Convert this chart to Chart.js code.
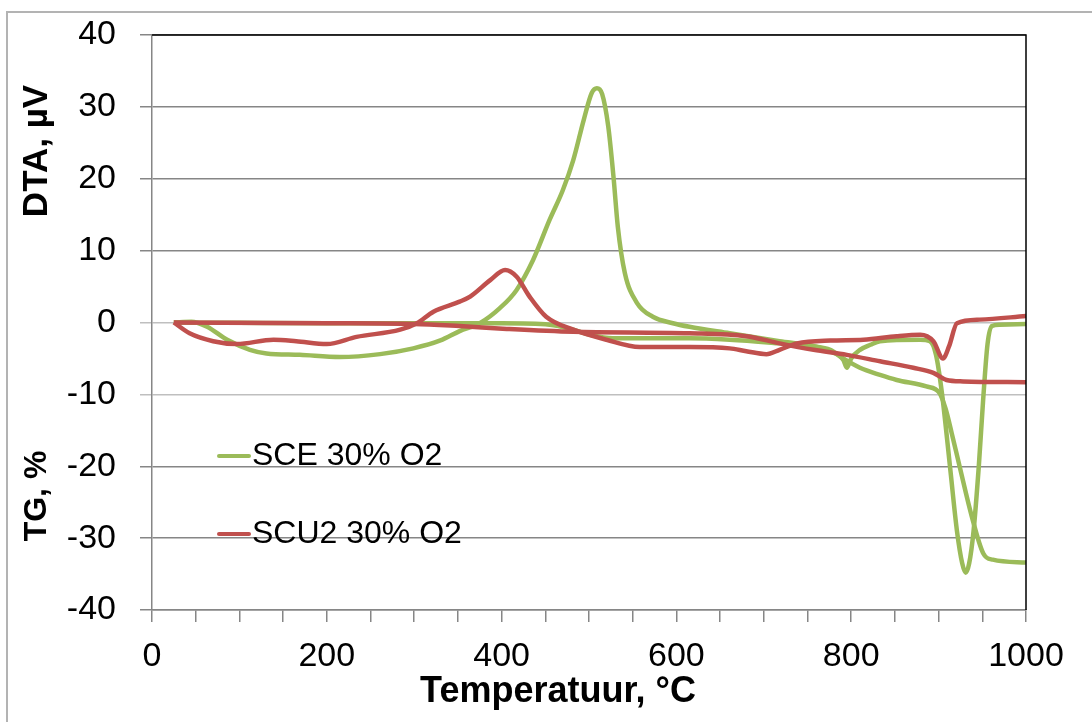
<!DOCTYPE html>
<html>
<head>
<meta charset="utf-8">
<script src="https://cdn.jsdelivr.net/npm/chart.js@4"></script>
<style>
  html, body { margin: 0; padding: 0; background: #fff; }
  #wrap { width: 1092px; height: 722px; }
</style>
</head>
<body>
<div id="wrap"><canvas id="c" width="1092" height="722"></canvas></div>
<script>
// series labels
const seriesNames = ["SCE 30% O2", "SCU2 30% O2"];

// SCE 30% O2 - DTA curve
const sceDtaT = [25, 45, 63, 86, 112, 131, 169, 215, 261, 299, 330, 352, 375, 398, 417, 436, 455, 470, 482, 494, 503, 509, 515, 522, 528, 533, 541, 555, 573, 596, 615, 661, 718, 757, 776, 791, 795, 800, 810, 822, 833, 879, 890, 897, 904, 913, 921, 927, 931, 935, 940, 946, 951, 956, 961, 970, 1000];
const sceDtaV = [0, 0.1, -0.6, -2.4, -3.8, -4.3, -4.5, -4.8, -4.4, -3.6, -2.5, -1.2, -0.1, 2.0, 4.5, 8.7, 14.3, 18.4, 22.6, 28.2, 31.9, 32.6, 31.8, 27.3, 20.3, 13.3, 6.9, 2.7, 0.8, -0.1, -0.6, -1.5, -2.6, -3.3, -4.0, -5.2, -6.3, -5.0, -3.8, -3.1, -2.6, -2.4, -2.6, -4.5, -10, -20, -29, -33.5, -34.8, -33.5, -29, -20, -10.7, -3, -0.5, -0.3, -0.2];

// SCE 30% O2 - TG curve
const sceTgT = [25, 100, 200, 300, 400, 455, 482, 501, 527, 615, 661, 718, 757, 776, 791, 810, 833, 852, 886, 901, 908, 915, 924, 938, 951, 962, 1000];
const sceTgV = [0, -0.05, -0.1, -0.1, -0.1, -0.3, -1.0, -1.7, -2.2, -2.2, -2.4, -2.9, -3.3, -3.8, -5.0, -6.3, -7.3, -8.0, -8.9, -9.8, -12, -15.4, -20, -27, -32.1, -33, -33.4];

// SCU2 30% O2 - DTA curve
const scuDtaT = [25, 43, 70, 97, 139, 165, 200, 234, 284, 303, 322, 352, 364, 387, 404, 417, 432, 451, 482, 520, 558, 615, 661, 680, 703, 718, 738, 776, 814, 852, 879, 894, 905, 912, 921, 947, 1000];
const scuDtaV = [0, -1.5, -2.6, -3.0, -2.4, -2.6, -3.0, -2.0, -1.0, -0.1, 1.5, 2.9, 3.6, 5.9, 7.3, 6.4, 3.6, 0.8, -1.0, -2.4, -3.4, -3.4, -3.6, -4.0, -4.4, -3.8, -2.9, -2.5, -2.4, -1.9, -1.7, -2.6, -5.0, -3.3, -0.1, 0.4, 0.9];

// SCU2 30% O2 - TG curve
const scuTgT = [25, 200, 300, 352, 406, 482, 615, 680, 718, 757, 795, 833, 871, 894, 909, 928, 1000];
const scuTgV = [0, -0.1, -0.2, -0.5, -0.9, -1.3, -1.5, -1.9, -2.9, -3.8, -4.5, -5.4, -6.3, -7.0, -8.0, -8.2, -8.3];

// axis texts
const xTitle = "Temperatuur, °C";
const yTitleTop = "DTA, µV";
const yTitleBottom = "TG, %";

const GREEN = "#9BBB59";
const RED = "#C0504D";
const FONT = '"Liberation Sans", Arial, sans-serif';

function pts(t, v) {
  return t.map((x, i) => ({ x: x, y: v[i] }));
}

function line(label, data, color, order) {
  return {
    label: label,
    data: data,
    borderColor: color,
    backgroundColor: color,
    borderWidth: 4.5,
    pointRadius: 0,
    showLine: true,
    fill: false,
    cubicInterpolationMode: "monotone",
    order: order,
  };
}

const decor = {
  id: "decor",
  beforeDraw(chart) {
    const ctx = chart.ctx;
    ctx.save();
    ctx.fillStyle = "#fff";
    ctx.fillRect(0, 0, chart.width, chart.height);
    // outer frame
    ctx.strokeStyle = "#b3b3b3";
    ctx.lineWidth = 2;
    ctx.strokeRect(7, 12, 1200, 1200);
    ctx.restore();
  },
  afterDraw(chart) {
    const ctx = chart.ctx;
    const a = chart.chartArea;
    ctx.save();
    // black top/right plot border
    ctx.strokeStyle = "#000";
    ctx.lineWidth = 1.5;
    ctx.beginPath();
    ctx.moveTo(a.left, a.top);
    ctx.lineTo(a.right, a.top);
    ctx.lineTo(a.right, a.bottom);
    ctx.stroke();

    // y titles
    ctx.fillStyle = "#000";
    ctx.textAlign = "center";
    ctx.textBaseline = "middle";
    [[yTitleTop, 151, 35], [yTitleBottom, 496, 32]].forEach(([txt, yc, fs]) => {
      ctx.save();
      ctx.font = "bold " + fs + "px " + FONT;
      ctx.translate(37, yc);
      ctx.rotate(-Math.PI / 2);
      ctx.fillText(txt, 0, 0);
      ctx.restore();
    });

    // x title
    ctx.font = "bold 36px " + FONT;
    ctx.textBaseline = "alphabetic";
    ctx.fillText(xTitle, 558, 702);

    // legend inside plot
    ctx.font = "32px " + FONT;
    ctx.textAlign = "left";
    ctx.textBaseline = "middle";
    [[seriesNames[0], GREEN, 456], [seriesNames[1], RED, 534]].forEach(([txt, col, y]) => {
      ctx.strokeStyle = col;
      ctx.lineWidth = 4;
      ctx.lineCap = "round";
      ctx.beginPath();
      ctx.moveTo(219, y);
      ctx.lineTo(249, y);
      ctx.stroke();
      ctx.fillStyle = "#000";
      ctx.fillText(txt, 252, y);
    });
    ctx.restore();
  },
};

new Chart(document.getElementById("c"), {
  type: "scatter",
  data: {
    datasets: [
      line(seriesNames[0], pts(sceDtaT, sceDtaV), GREEN, 4),
      line(seriesNames[0], pts(sceTgT, sceTgV), GREEN, 3),
      line(seriesNames[1], pts(scuDtaT, scuDtaV), RED, 2),
      line(seriesNames[1], pts(scuTgT, scuTgV), RED, 1),
    ],
  },
  options: {
    responsive: false,
    animation: false,
    events: [],
    layout: { padding: { left: 0, right: 66, top: 35, bottom: 0 } },
    plugins: {
      legend: { display: false },
      tooltip: { enabled: false },
    },
    scales: {
      x: {
        type: "linear",
        min: 0,
        max: 1000,
        afterFit(s) { s.height = 112; s.paddingLeft = 0; s.paddingRight = 0; },
        ticks: {
          stepSize: 50,
          autoSkip: false,
          maxRotation: 0,
          padding: 14,
          color: "#000",
          font: { family: FONT, size: 34 },
          callback: (v) => (v % 200 === 0 ? String(v) : ""),
        },
        grid: {
          drawOnChartArea: false,
          drawTicks: true,
          tickLength: 12,
          color: "#868686",
          lineWidth: 1.5,
        },
        border: { color: "#868686", width: 1.5 },
      },
      y: {
        min: -40,
        max: 40,
        afterFit(s) { s.width = 152; s.paddingTop = 0; s.paddingBottom = 0; },
        ticks: {
          stepSize: 10,
          padding: 24,
          color: "#000",
          font: { family: FONT, size: 34 },
        },
        grid: {
          tickLength: 12,
          lineWidth: 1.5,
          color: (c) => (c.tick && (c.tick.value === 0 || c.tick.value === -10) ? "#bfbfbf" : "#868686"),
        },
        border: { color: "#868686", width: 1.5 },
      },
    },
  },
  plugins: [decor],
});
</script>
</body>
</html>
